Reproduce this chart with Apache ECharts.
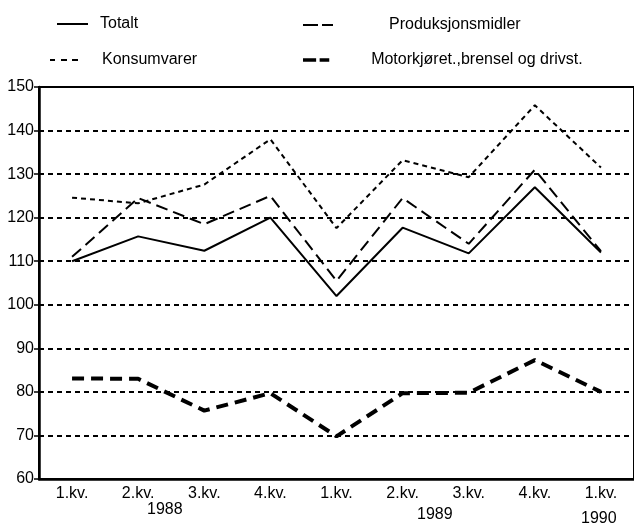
<!DOCTYPE html>
<html>
<head>
<meta charset="utf-8">
<script src="https://cdn.jsdelivr.net/npm/echarts@6/dist/echarts.min.js"></script>
<style>
html,body{margin:0;padding:0;background:#fff;}
#c{width:634px;height:526px;}
</style>
</head>
<body>
<div id="c"></div>
<script>
const categories = ['1.kv.', '2.kv.', '3.kv.', '4.kv.', '1.kv.', '2.kv.', '3.kv.', '4.kv.', '1.kv.'];
const years = ['1988', '1989', '1990'];
const totalt = [110, 115.7, 112.4, 120, 102, 117.7, 111.8, 127, 112];
const produksjonsmidler = [111, 124.5, 118.5, 125, 105.5, 124.5, 114, 131, 112.3];
const konsumvarer = [124.6, 123.3, 127.6, 138, 117.6, 133.2, 129.3, 145.8, 131.5];
const motorkjoret = [83.1, 83, 75.7, 79.7, 69.8, 79.7, 79.8, 87.3, 80];
const yTicks = [60, 70, 80, 90, 100, 110, 120, 130, 140, 150];

const FONT = '"Liberation Sans", Arial, Helvetica, sans-serif';
const chart = echarts.init(document.getElementById('c'), null, {renderer: 'canvas'});

function leg(name, icon, left, top, width, height, pad) {
  return {
    data: [name], left: left, top: top, itemWidth: width, itemHeight: height,
    icon: icon, padding: 0, selectedMode: false,
    itemStyle: {color: '#000', borderWidth: 0},
    textStyle: {color: '#000', fontFamily: FONT, fontSize: 16, padding: [0, 0, 0, pad]}
  };
}

chart.setOption({
  animation: false,
  backgroundColor: '#fff',
  grid: {left: 39, top: 87, width: 598, height: 392, show: true, borderColor: '#000', borderWidth: 2, backgroundColor: 'transparent'},
  legend: [
    leg('Totalt', 'path://M0,0h31v2h-31z', 57, 16, 31, 2, 7),
    leg('Konsumvarer', 'path://M0,0h5v2h-5z M11,0h6v2h-6z M22,0h6v2h-6z', 50, 52, 28, 2, 19),
    leg('Produksjonsmidler', 'path://M0,0h15v2h-15z M19,0h11v2h-11z', 303, 17, 30, 2, 51),
    leg('Motorkjøret.,brensel og drivst.', 'path://M0,0h15v4h-15z M19,0h11v4h-11z', 303, 52, 30, 3.5, 35)
  ],
  xAxis: {
    type: 'category', data: categories, boundaryGap: true,
    axisLine: {lineStyle: {color: '#000', width: 2.5}},
    axisTick: {alignWithLabel: true, length: 5, lineStyle: {color: '#000', width: 1.5}},
    axisLabel: {color: '#000', fontFamily: FONT, fontSize: 16, margin: 7, interval: 0}
  },
  yAxis: {
    type: 'value', min: 60, max: 150, interval: 10,
    axisLine: {show: true, lineStyle: {color: '#000', width: 2.5}},
    axisTick: {show: true, length: 5, lineStyle: {color: '#000', width: 1.5}},
    axisLabel: {color: '#000', fontFamily: FONT, fontSize: 16, margin: 5,
      formatter: v => yTicks.indexOf(v) >= 0 ? String(v) : ''},
    splitLine: {show: true, lineStyle: {color: '#000', width: 2, type: [5, 4]}}
  },
  series: [
    {name: 'Totalt', type: 'line', data: totalt, symbol: 'none',
      lineStyle: {color: '#000', width: 2, type: 'solid'}, itemStyle: {color: '#000'}},
    {name: 'Produksjonsmidler', type: 'line', data: produksjonsmidler, symbol: 'none',
      lineStyle: {color: '#000', width: 2, type: [12, 6]}, itemStyle: {color: '#000'}},
    {name: 'Konsumvarer', type: 'line', data: konsumvarer, symbol: 'none',
      lineStyle: {color: '#000', width: 2, type: [5, 4]}, itemStyle: {color: '#000'}},
    {name: 'Motorkjøret.,brensel og drivst.', type: 'line', data: motorkjoret, symbol: 'none',
      lineStyle: {color: '#000', width: 4, type: [12, 7]}, itemStyle: {color: '#000'}}
  ],
  graphic: [
    {type: 'text', left: 147, top: 502, style: {text: years[0], fill: '#000', font: '16px ' + FONT}},
    {type: 'text', left: 417, top: 507, style: {text: years[1], fill: '#000', font: '16px ' + FONT}},
    {type: 'text', left: 581, top: 511, style: {text: years[2], fill: '#000', font: '16px ' + FONT}}
  ]
});
</script>
</body>
</html>
